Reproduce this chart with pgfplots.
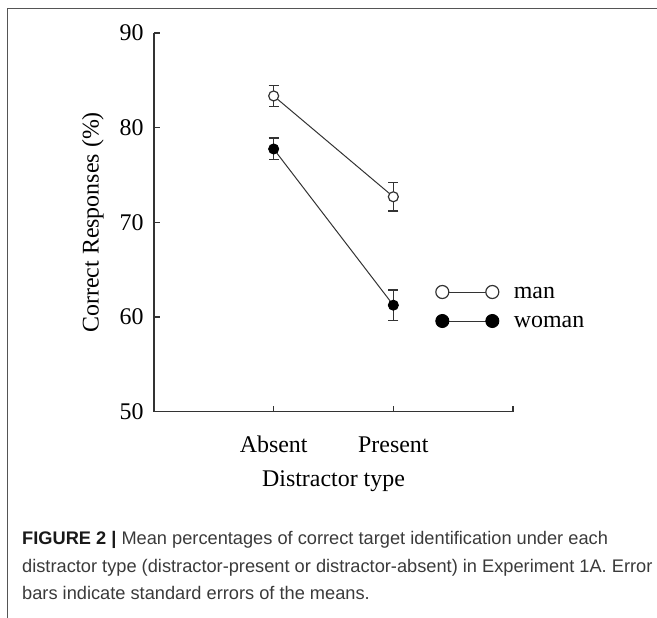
\documentclass[border=0pt]{standalone}
\usepackage{fontspec}
\setmainfont{Liberation Serif}
\newfontfamily\capfont{Liberation Sans}
\usepackage{pgfplots}
\pgfplotsset{compat=1.18}
\definecolor{ink}{HTML}{333333}
\definecolor{captxt}{HTML}{3A3A3A}
\definecolor{framec}{HTML}{555555}
\begin{document}
\begin{tikzpicture}[x=1bp,y=1bp]
\useasboundingbox (0,0) rectangle (657,618);
\draw[color=framec, line width=1.5bp] (7.3,0) -- (7.3,609.7) -- (657,609.7);
\begin{axis}[
 at={(154bp,206.3bp)}, anchor=south west,
 scale only axis, width=359bp, height=378.7bp,
 xmin=0, xmax=3, ymin=50, ymax=90,
 axis x line*=bottom, axis y line*=left,
 axis line style={ink, line width=1.2bp},
 xtick={1,2,3}, xticklabels={Absent,Present,{}},
 ytick={50,60,70,80,90},
 tick align=inside, major tick length=6bp,
 tick style={ink, line width=1.2bp},
 ticklabel style={font=\fontsize{24}{28}\selectfont, text=black},
 /pgf/number format/assume math mode=true,
 xticklabel style={anchor=base, yshift=-41bp},
 yticklabel style={anchor=east, xshift=-7bp},
 every axis x label/.style={at={(axis description cs:0.5,-0.198)}, anchor=base},
 every axis y label/.style={at={(axis description cs:-0.17,0.5)}, rotate=90, anchor=center},
 label style={font=\fontsize{24}{28}\selectfont},
 xlabel={Distractor type},
 ylabel={Correct Responses (\%)},
 clip=false,
 legend style={at={(axis cs:2.355,61.11)}, anchor=west, draw=none, fill=none,
   inner sep=0pt, outer sep=0pt, row sep=7bp, column sep=15bp,
   nodes={inner sep=0pt, text height=17bp, text depth=5bp, font=\fontsize{24}{28}\selectfont}},
 legend cell align=left,
 legend image code/.code={\draw[#1, mark size=6.5bp] plot coordinates {(0bp,0bp) (50bp,0bp)};},
]
\addplot[ink, line width=1bp, mark=*, mark size=5bp,
  mark options={fill=white, draw=ink, line width=1.2bp},
  error bars/.cd, y dir=both, y explicit,
  error bar style={ink, line width=1.2bp},
  error mark options={rotate=90, mark size=5bp, ink, line width=1.2bp}]
  coordinates {(1,83.35) +- (0,1.1) (2,72.7) +- (0,1.5)};
\addlegendentry{man}
\addplot[ink, line width=1bp, mark=*, mark size=5bp,
  mark options={fill=black, draw=black, line width=1bp},
  error bars/.cd, y dir=both, y explicit,
  error bar style={ink, line width=1.2bp},
  error mark options={rotate=90, mark size=5bp, ink, line width=1.2bp}]
  coordinates {(1,77.75) +- (0,1.15) (2,61.25) +- (0,1.6)};
\addlegendentry{woman}
\end{axis}
\begin{scope}[every node/.style={anchor=base west, inner sep=0pt, font=\capfont\fontsize{18.3}{28}\selectfont, text=captxt}]
\node at (22,73.5) {{\bfseries\color{black!90}FIGURE 2 |} Mean percentages of correct target identification under each};
\node at (22,45.5) {distractor type (distractor-present or distractor-absent) in Experiment 1A. Error};
\node at (22,18) {bars indicate standard errors of the means.};
\end{scope}
\end{tikzpicture}
\end{document}
